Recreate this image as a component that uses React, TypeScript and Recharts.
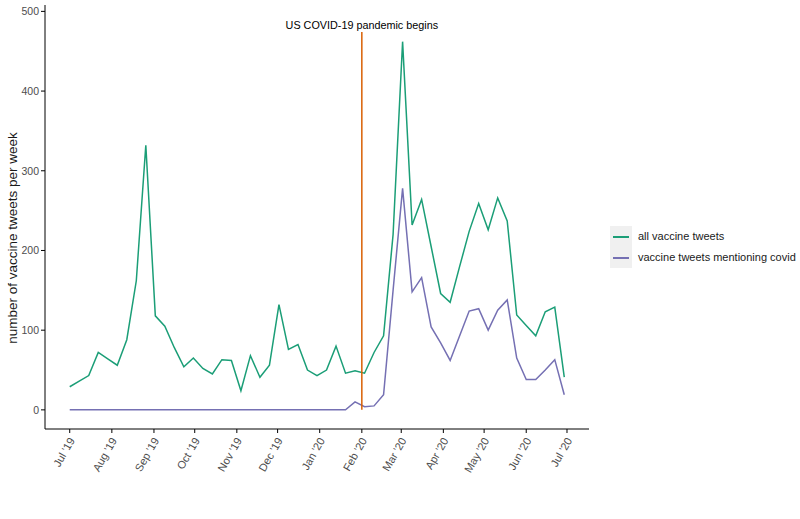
import React from "react";
import {
  LineChart,
  Line,
  XAxis,
  YAxis,
  ReferenceLine,
  Legend,
} from "recharts";

// weekly counts, first week starting Jul 1 2019
const allVaccineTweets = [
  29, 36, 43, 72, 64, 56, 88, 162, 332, 118, 105, 78, 54, 65, 52, 45, 63, 62,
  24, 68, 41, 56, 132, 76, 82, 50, 43, 50, 80, 46, 49, 46, 72, 93, 220, 462,
  232, 264, 205, 146, 135, 180, 224, 259, 226, 266, 237, 119, 106, 93, 123,
  129, 41,
];
const covidVaccineTweets = [
  0, 0, 0, 0, 0, 0, 0, 0, 0, 0, 0, 0, 0, 0, 0, 0, 0, 0, 0, 0, 0, 0, 0, 0, 0,
  0, 0, 0, 0, 0, 10, 4, 5, 19, 150, 278, 148, 166, 104, 84, 62, 93, 124, 127,
  100, 125, 138, 65, 38, 38, 50, 63, 19,
];

// month ticks as days since Jul 1 2019
const monthTickDays = [0, 31, 62, 92, 123, 153, 184, 215, 244, 275, 305, 336, 366];
const monthTickLabels = [
  "Jul '19", "Aug '19", "Sep '19", "Oct '19", "Nov '19", "Dec '19",
  "Jan '20", "Feb '20", "Mar '20", "Apr '20", "May '20", "Jun '20", "Jul '20",
];
const yTicks = [0, 100, 200, 300, 400, 500];

const pandemicDay = 215;
const pandemicLabel = "US COVID-19 pandemic begins";

const seriesNames = ["all vaccine tweets", "vaccine tweets mentioning covid"];
const seriesColors = ["#1b9e77", "#7570b3"];

const font = "'Liberation Sans', Arial, sans-serif";

const chartData = allVaccineTweets.map((v, i) => ({
  day: i * 7,
  all: v,
  covid: covidVaccineTweets[i],
}));

const MonthTick = (props: any) => {
  const { x, y, payload } = props;
  const idx = monthTickDays.indexOf(payload.value);
  return (
    <text
      x={x + 3}
      y={y + 4}
      textAnchor="end"
      dominantBaseline="middle"
      fontSize={11}
      fill="#4d4d4d"
      fontFamily={font}
      transform={`rotate(-60, ${x + 3}, ${y + 4})`}
    >
      {monthTickLabels[idx]}
    </text>
  );
};

const YLabel = () => (
  <text
    x={13}
    y={238}
    textAnchor="middle"
    dominantBaseline="middle"
    fontSize={13.5}
    fill="#1a1a1a"
    fontFamily={font}
    transform="rotate(-90, 13, 238)"
  >
    number of vaccine tweets per week
  </text>
);

const LegendBox = () => (
  <div style={{ display: "flex", fontFamily: font, fontSize: 11, color: "#1a1a1a" }}>
    <div style={{ background: "#f0f0f0", width: 22, height: 42, position: "relative", flex: "none" }}>
      {seriesColors.map((c, i) => (
        <div
          key={c}
          style={{
            position: "absolute",
            left: 3,
            top: 10 + i * 21,
            width: 16,
            height: 1.6,
            background: c,
          }}
        />
      ))}
    </div>
    <div style={{ marginLeft: 6 }}>
      {seriesNames.map((n) => (
        <div key={n} style={{ height: 21, lineHeight: "21px", whiteSpace: "nowrap" }}>
          {n}
        </div>
      ))}
    </div>
  </div>
);

export default function App() {
  return (
    <div style={{ position: "absolute", left: 0, top: 0, background: "#fff" }}>
      <LineChart
        width={800}
        height={519}
        data={chartData}
        margin={{ top: 5, right: 211, bottom: 0, left: 0 }}
      >
        <XAxis
          dataKey="day"
          type="number"
          domain={[-18.2, 382.2]}
          ticks={monthTickDays}
          tick={<MonthTick />}
          height={48}
          stroke="#000"
          tickSize={4}
          allowDataOverflow
        />
        <YAxis
          type="number"
          domain={[-24, 508]}
          ticks={yTicks}
          width={45}
          stroke="#000"
          tickSize={4}
          tick={{ fill: "#4d4d4d", fontSize: 10.5, fontFamily: font }}
          allowDataOverflow
          label={<YLabel />}
        />
        <Line
          type="linear"
          dataKey="all"
          name={seriesNames[0]}
          stroke={seriesColors[0]}
          strokeWidth={1.5}
          dot={false}
          isAnimationActive={false}
        />
        <Line
          type="linear"
          dataKey="covid"
          name={seriesNames[1]}
          stroke={seriesColors[1]}
          strokeWidth={1.5}
          dot={false}
          isAnimationActive={false}
        />
        <ReferenceLine
          segment={[
            { x: pandemicDay, y: 0 },
            { x: pandemicDay, y: 474 },
          ]}
          stroke="#d95f02"
          strokeWidth={1.5}
          label={{
            value: pandemicLabel,
            position: "top",
            offset: 3,
            fontSize: 10.8,
            fill: "#000",
            fontFamily: font,
          }}
        />
        <Legend
          content={<LegendBox />}
          wrapperStyle={{ position: "absolute", left: 610, top: 226, width: 190 }}
        />
      </LineChart>
    </div>
  );
}
